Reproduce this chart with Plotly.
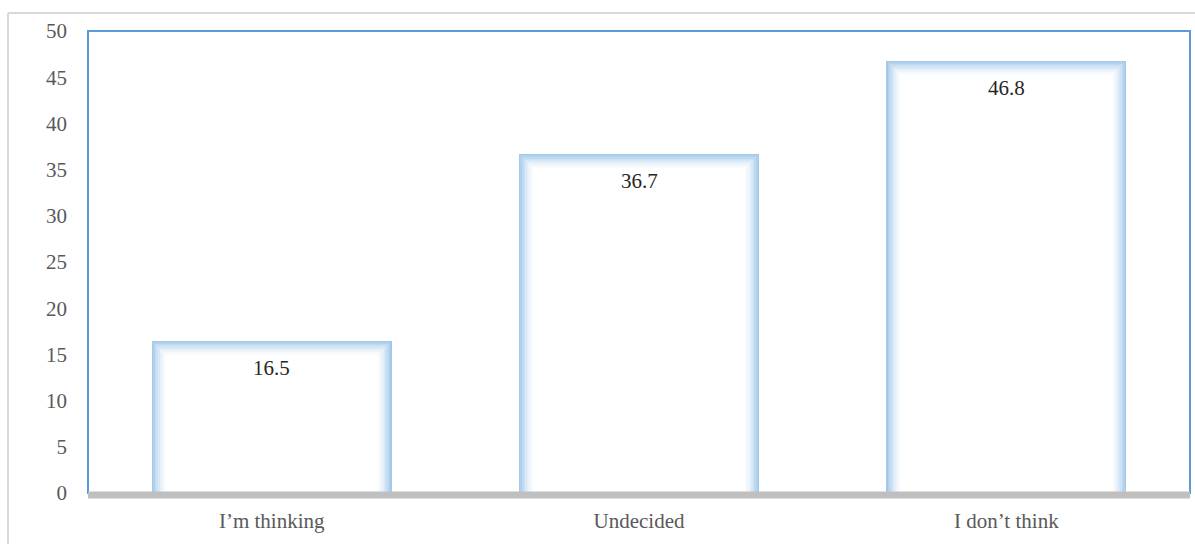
import plotly.graph_objects as go

categories = ["I\u2019m thinking", "Undecided", "I don\u2019t think"]
values = [16.5, 36.7, 46.8]
y_ticks = [0, 5, 10, 15, 20, 25, 30, 35, 40, 45, 50]

W, H = 1195, 544
L, R, T, B = 88, 5, 31, 51
plot_w = W - L - R
plot_h = H - T - B
px_per_cat = plot_w / len(categories)
px_per_unit = plot_h / 50.0
bar_w = 0.654

# glow layers: outer blue to inner white
glow = ["#a4c8ea", "#b1d0ed", "#bfd9f0", "#cce1f4", "#d8e8f6", "#e3eff9", "#ecf4fb", "#f4f8fd", "#fafcfe", "#ffffff"]
step = 1.6  # px inset per layer

fig = go.Figure()
for k, col in enumerate(glow):
    inset = step * k
    w = bar_w - 2 * inset / px_per_cat
    ys = [v - inset / px_per_unit for v in values]
    fig.add_trace(go.Bar(
        x=categories, y=ys, width=w,
        marker=dict(color=col, line=dict(width=0)),
        hoverinfo="skip", showlegend=False,
    ))

for c, v in zip(categories, values):
    fig.add_annotation(x=c, y=v, text=f"{v}", showarrow=False, yshift=-27,
                       font=dict(family="Liberation Serif", size=21, color="#262626"))

def px_x(p):
    return (p - L) / plot_w

def px_y(p):
    return (H - B - p) / plot_h

shapes = [
    # outer light gray chart border
    dict(type="line", xref="paper", yref="paper", x0=px_x(8), x1=px_x(1200), y0=px_y(13), y1=px_y(13),
         line=dict(color="#d9d9d9", width=2)),
    dict(type="line", xref="paper", yref="paper", x0=px_x(8), x1=px_x(8), y0=px_y(13), y1=px_y(550),
         line=dict(color="#d9d9d9", width=2)),
    # blue plot frame
    dict(type="rect", xref="paper", yref="paper", x0=0, x1=1, y0=0, y1=1,
         line=dict(color="#5b9bd5", width=2), layer="below"),
    # gray baseline
    dict(type="rect", xref="paper", yref="paper", x0=0, x1=1, y0=1.5, y1=-5.5,
         ysizemode="pixel", yanchor=0, fillcolor="#bfbfbf", line=dict(width=0)),
]

fig.update_layout(
    width=W, height=H,
    margin=dict(l=L, r=R, t=T, b=B),
    paper_bgcolor="white", plot_bgcolor="white",
    barmode="overlay", bargap=0,
    shapes=shapes,
    font=dict(family="Liberation Serif", size=21, color="#595959"),
    xaxis=dict(showgrid=False, zeroline=False, showline=False, ticks="",
               tickfont=dict(family="Liberation Serif", size=21, color="#595959"),
               ticklabelstandoff=13),
    yaxis=dict(range=[0, 50], tickvals=y_ticks, showgrid=False, zeroline=False, showline=False,
               ticks="", tickfont=dict(family="Liberation Serif", size=21, color="#595959"),
               ticklabelstandoff=20),
)

fig.write_html("out.html")
